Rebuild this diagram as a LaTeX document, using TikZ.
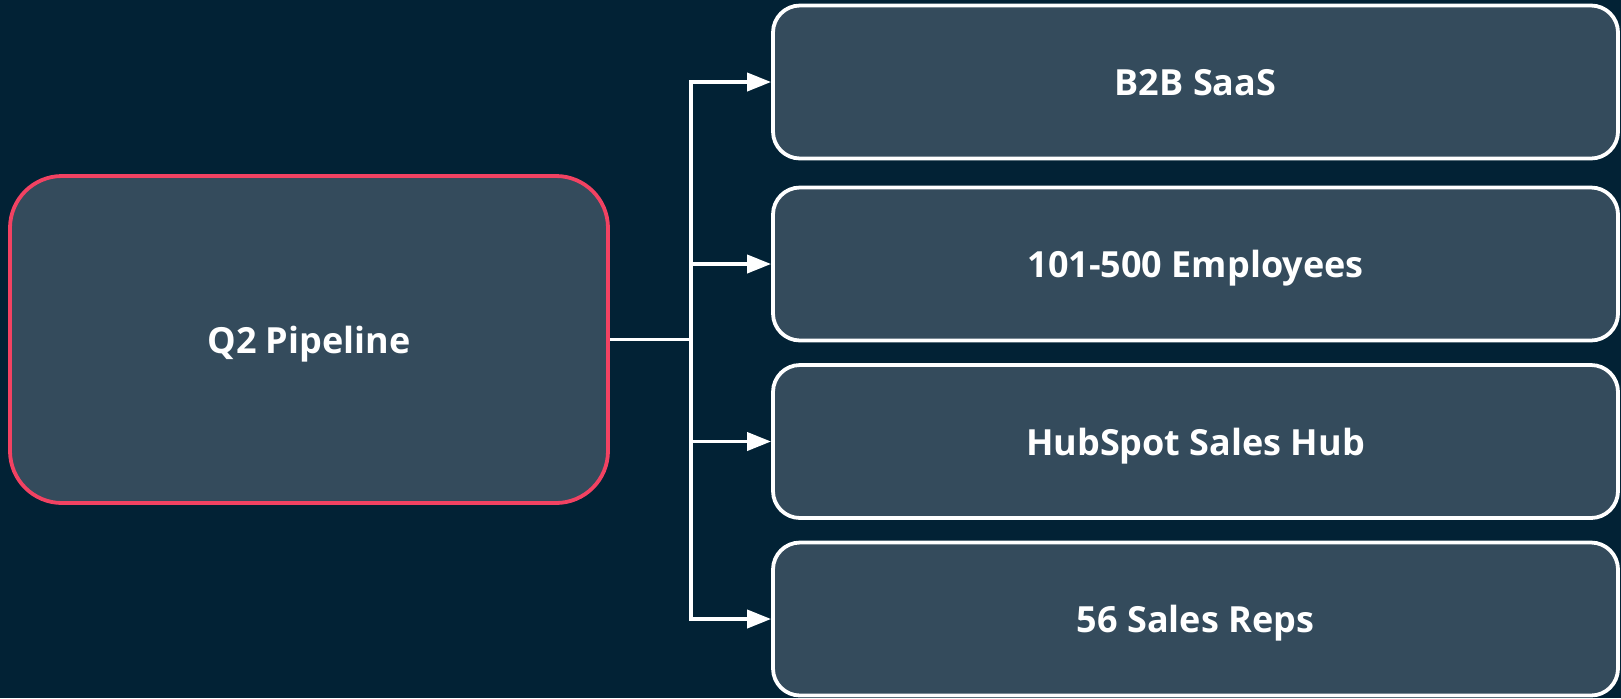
\documentclass[tikz,border=0pt]{standalone}
\usepackage{fontspec}
\setmainfont{Open Sans}
\usetikzlibrary{arrows.meta}
\definecolor{bg}{HTML}{022235}
\definecolor{boxfill}{HTML}{344B5C}
\definecolor{redline}{HTML}{F24262}
\begin{document}
\begin{tikzpicture}[x=0.5pt,y=-0.5pt,
  lbl/.style={text=white,font=\fontsize{18}{22}\selectfont\bfseries,text depth=0pt},
  rootbox/.style={lbl,draw=redline,line width=1.9pt,fill=boxfill,rounded corners=26pt,
    minimum width=299pt,minimum height=163.5pt,inner sep=0pt},
  leafbox/.style={lbl,draw=white,line width=1.9pt,fill=boxfill,rounded corners=13.5pt,
    minimum width=422.5pt,minimum height=76.5pt,inner sep=0pt},
  link/.style={draw=white,line width=1.9pt},
  arr/.style={link,-{Triangle[length=12pt,width=9pt]}}]
\fill[bg] (0,0) rectangle (1621,698);
\useasboundingbox (0,0) rectangle (1621,698);
\node[rootbox] (root) at (309,339.5) {Q2 Pipeline};
\node[leafbox] (a) at (1195.5,82) {B2B SaaS};
\node[leafbox] (b) at (1195.5,264) {101-500 Employees};
\node[leafbox] (c) at (1195.5,441.5) {HubSpot Sales Hub};
\node[leafbox] (d) at (1195.5,619) {56 Sales Reps};
\coordinate (j) at (691,339.5);
\draw[link] (root.east) -- (j);
\draw[arr] (j) |- (a.west);
\draw[arr] (j) |- (b.west);
\draw[arr] (j) |- (c.west);
\draw[arr] (j) |- (d.west);
\end{tikzpicture}
\end{document}
